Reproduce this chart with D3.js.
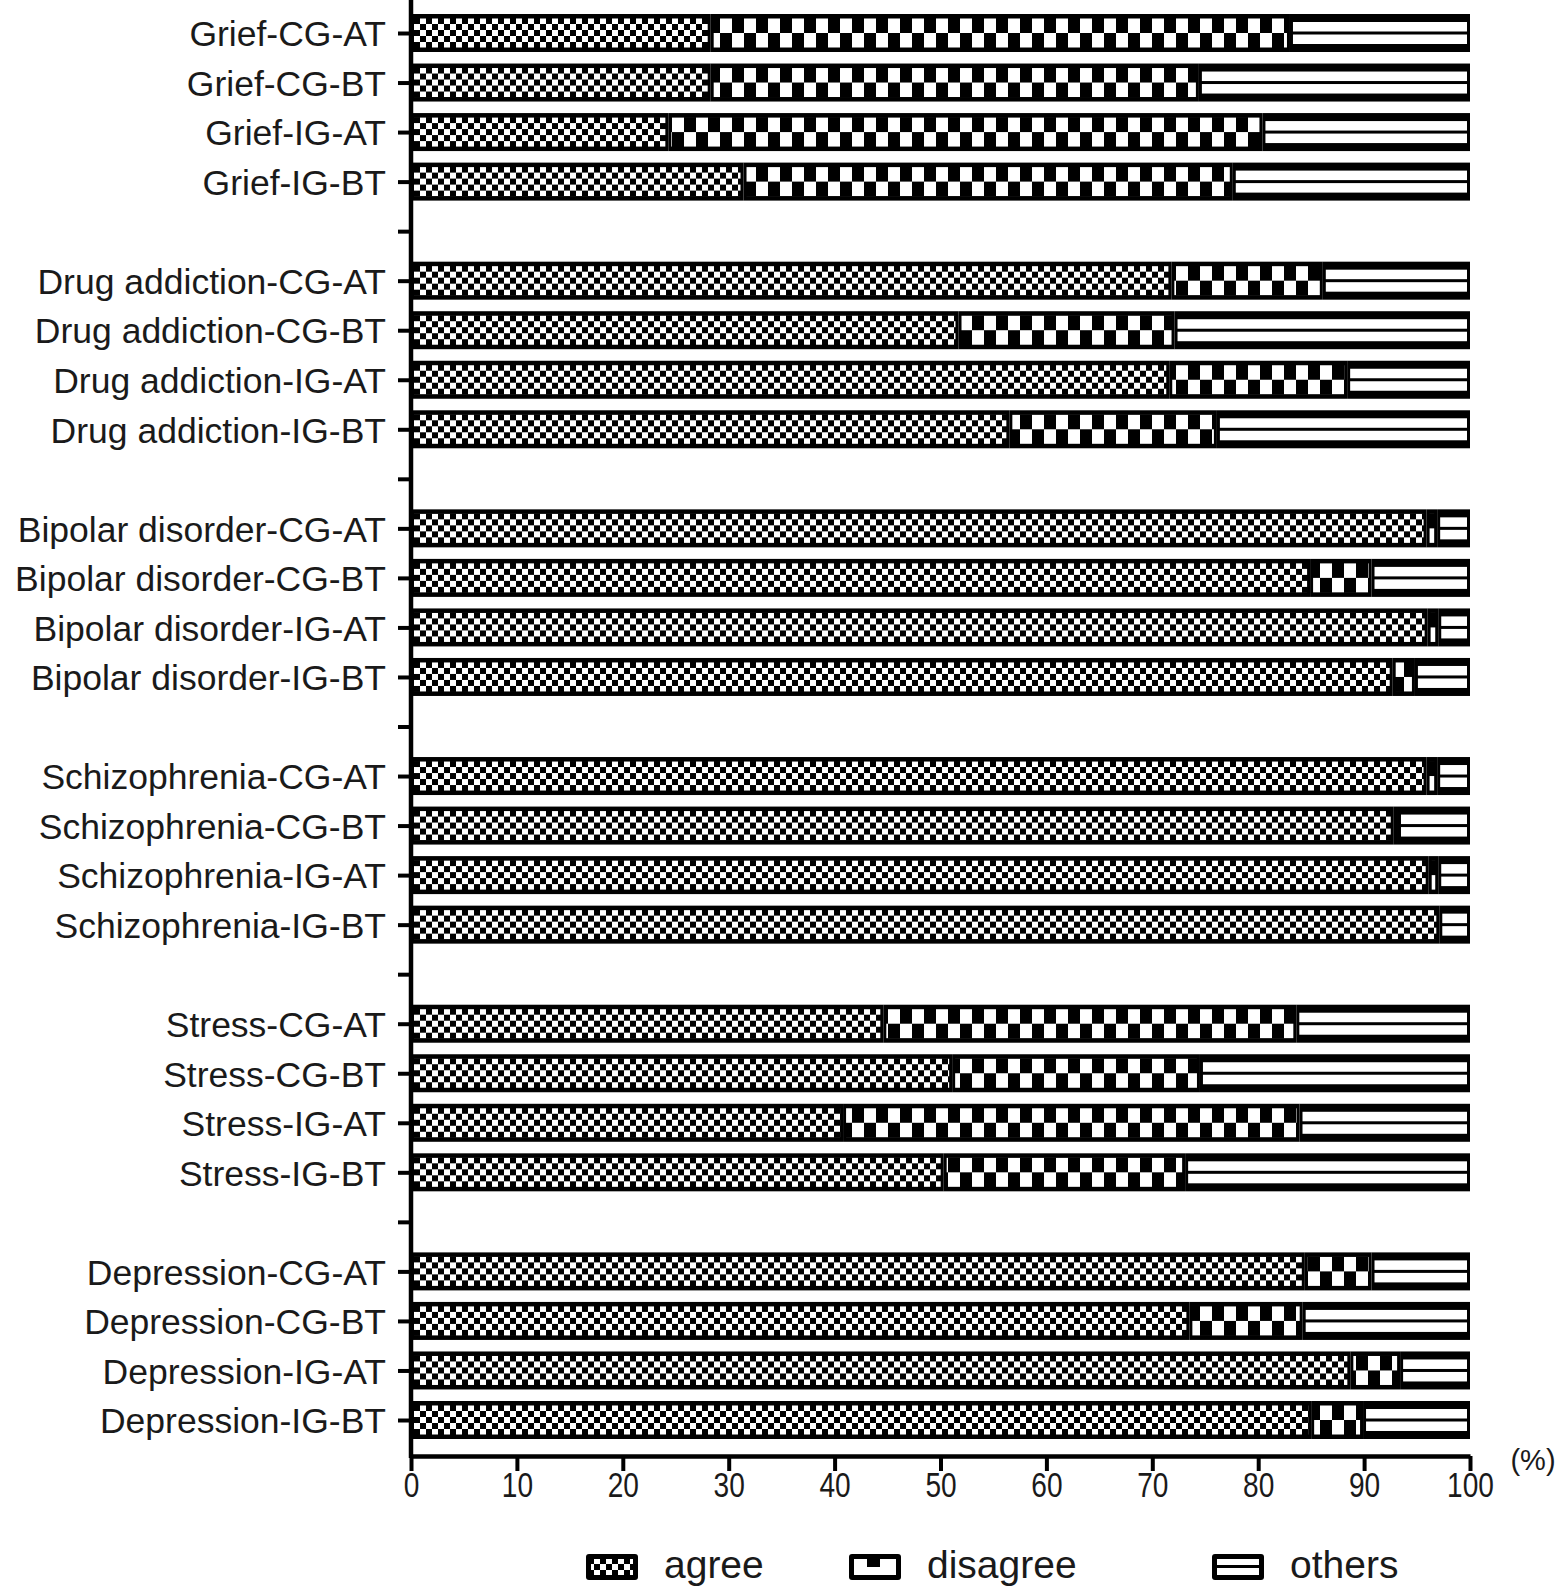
<!DOCTYPE html>
<html>
<head>
<meta charset="utf-8">
<script src="https://cdn.jsdelivr.net/npm/d3@7/dist/d3.min.js"></script>
<style>
  html, body { margin: 0; padding: 0; background: #fff; }
  svg { display: block; }
  text { font-family: "Liberation Sans", Arial, sans-serif; fill: #1a1a1a; }
</style>
</head>
<body>
<svg id="chart" width="1559" height="1589"></svg>
<script>
// ---------- data ----------
const groups = ["Grief", "Drug addiction", "Bipolar disorder", "Schizophrenia", "Stress", "Depression"];
const arms = ["CG-AT", "CG-BT", "IG-AT", "IG-BT"];
// percentages, in order of groups x arms
const agree    = [28.3, 28.3, 24.3, 31.4,  71.8, 51.7, 71.6, 56.5,  95.9, 84.9, 96.0, 92.7,  95.9, 92.8, 96.1, 97.1,  44.6, 51.1, 40.8, 50.3,  84.4, 73.5, 88.7, 85.0];
const disagree = [54.7, 46.1, 56.1, 46.2,  14.3, 20.4, 16.8, 19.6,   1.0,  5.8,  1.0,  2.1,   1.0,  0.4,  0.9,  0.0,  39.0, 23.4, 43.1, 22.8,   6.3, 10.7,  4.7,  4.9];
const others   = [17.0, 25.6, 19.6, 22.4,  13.9, 27.9, 11.6, 23.9,   3.1,  9.3,  3.0,  5.2,   3.1,  6.8,  3.0,  2.9,  16.4, 25.5, 16.1, 26.9,   9.3, 15.8,  6.6, 10.1];
const seriesNames = ["agree", "disagree", "others"];
const xTicks = [0, 10, 20, 30, 40, 50, 60, 70, 80, 90, 100];
const unitLabel = "(%)";

// ---------- rows (with blank separators between groups) ----------
const rows = [];
groups.forEach((g, gi) => {
  arms.forEach((a, ai) => {
    const k = gi * arms.length + ai;
    rows.push({ id: g + "-" + a, label: g + "-" + a, vals: [agree[k], disagree[k], others[k]] });
  });
  if (gi < groups.length - 1) rows.push({ id: "blank" + gi, label: "", vals: null });
});

const svg = d3.select("#chart");
const defs = svg.append("defs");

// patterns
const BAR_H = 38;
const pA = defs.append("pattern").attr("id", "pAgree").attr("patternUnits", "userSpaceOnUse")
  .attr("x", 0).attr("y", 4).attr("width", 12).attr("height", 12);
pA.append("rect").attr("width", 12).attr("height", 12).attr("fill", "#000");
pA.append("rect").attr("x", 0).attr("y", 0).attr("width", 6).attr("height", 6).attr("fill", "#fff");
pA.append("rect").attr("x", 6).attr("y", 6).attr("width", 6).attr("height", 6).attr("fill", "#fff");

const pD = defs.append("pattern").attr("id", "pDis").attr("patternUnits", "userSpaceOnUse")
  .attr("x", 0).attr("y", 4).attr("width", 24).attr("height", 30);
pD.append("rect").attr("width", 24).attr("height", 30).attr("fill", "#000");
pD.append("rect").attr("x", 0).attr("y", 0).attr("width", 12).attr("height", 15).attr("fill", "#fff");
pD.append("rect").attr("x", 12).attr("y", 15).attr("width", 12).attr("height", 15).attr("fill", "#fff");

// ---------- scales ----------
const x = d3.scaleLinear().domain([0, 100]).range([411, 1470]);
const y = d3.scalePoint().domain(rows.map(r => r.id)).range([33, 1420]);

// ---------- bars ----------
const barG = svg.append("g");
rows.filter(r => r.vals).forEach(r => {
  const g = barG.append("g").attr("transform", `translate(0,${y(r.id) - BAR_H / 2})`);
  let cum = 0;
  r.vals.forEach((v, si) => {
    const x0 = x(cum), x1 = x(cum + v);
    cum += v;
    if (v <= 0) return;
    g.append("rect").attr("x", x0).attr("y", 0).attr("width", x1 - x0).attr("height", BAR_H).attr("fill", "#000");
    const ix0 = x0 + 3, ix1 = x1 - 3;
    if (ix1 - ix0 <= 0) return;
    if (si === 0) {
      g.append("rect").attr("x", ix0).attr("y", 4.5).attr("width", ix1 - ix0).attr("height", 29).attr("fill", "url(#pAgree)");
    } else if (si === 1) {
      g.append("rect").attr("x", ix0).attr("y", 4.5).attr("width", ix1 - ix0).attr("height", 29).attr("fill", "url(#pDis)");
    } else {
      g.append("rect").attr("x", ix0).attr("y", 8).attr("width", ix1 - ix0).attr("height", 9.5).attr("fill", "#fff");
      g.append("rect").attr("x", ix0).attr("y", 20.5).attr("width", ix1 - ix0).attr("height", 9.5).attr("fill", "#fff");
    }
  });
});

// ---------- axes ----------
const yAxis = d3.axisLeft(y).tickSize(13).tickPadding(12)
  .tickFormat(id => (rows.find(r => r.id === id) || {}).label);
const yg = svg.append("g").attr("transform", "translate(411,0)").call(yAxis);
yg.select(".domain").remove();
yg.selectAll(".tick line").attr("stroke", "#000").attr("stroke-width", 4);
yg.selectAll(".tick text").attr("font-size", 35.5).attr("dy", "0.36em")
  .attr("font-family", "Liberation Sans, Arial, sans-serif").attr("fill", "#1a1a1a");
svg.append("line").attr("x1", 411).attr("x2", 411).attr("y1", 0).attr("y2", 1458)
  .attr("stroke", "#000").attr("stroke-width", 4.5);

const xAxis = d3.axisBottom(x).tickValues(xTicks).tickSize(15).tickSizeOuter(0).tickPadding(0);
const xg = svg.append("g").attr("transform", "translate(0,1456)").call(xAxis);
xg.select(".domain").attr("stroke", "#000").attr("stroke-width", 4.5);
xg.selectAll(".tick line").attr("stroke", "#000").attr("stroke-width", 4);
xg.selectAll(".tick text").attr("font-size", 36).attr("fill", "#1a1a1a")
  .attr("font-family", "Liberation Sans, Arial, sans-serif")
  .attr("transform", "scale(0.78,1)");

svg.append("text").attr("x", 1533).attr("y", 1470).attr("text-anchor", "middle")
  .attr("font-size", 29).text(unitLabel);

// ---------- legend ----------
const legendX = [586, 849, 1212];
const lg = svg.append("g");
seriesNames.forEach((name, i) => {
  const lx = legendX[i], ly = 1554, lw = 52, lh = 26;
  lg.append("rect").attr("x", lx).attr("y", ly).attr("width", lw).attr("height", lh).attr("rx", 3).attr("fill", "#000");
  if (i === 0) {
    lg.append("rect").attr("x", lx + 5).attr("y", ly + 5).attr("width", lw - 10).attr("height", lh - 10).attr("fill", "url(#pAgree)");
  } else if (i === 1) {
    lg.append("rect").attr("x", lx + 5).attr("y", ly + 5).attr("width", lw - 10).attr("height", lh - 10).attr("fill", "#fff");
    lg.append("rect").attr("x", lx + 18).attr("y", ly + 5).attr("width", 13).attr("height", 8).attr("fill", "#000");
  } else {
    lg.append("rect").attr("x", lx + 5).attr("y", ly + 5).attr("width", lw - 10).attr("height", 6).attr("fill", "#fff");
    lg.append("rect").attr("x", lx + 5).attr("y", ly + 14).attr("width", lw - 10).attr("height", 7).attr("fill", "#fff");
  }
  lg.append("text").attr("x", lx + lw + 26).attr("y", 1578).attr("font-size", 39).text(name);
});
</script>
</body>
</html>
